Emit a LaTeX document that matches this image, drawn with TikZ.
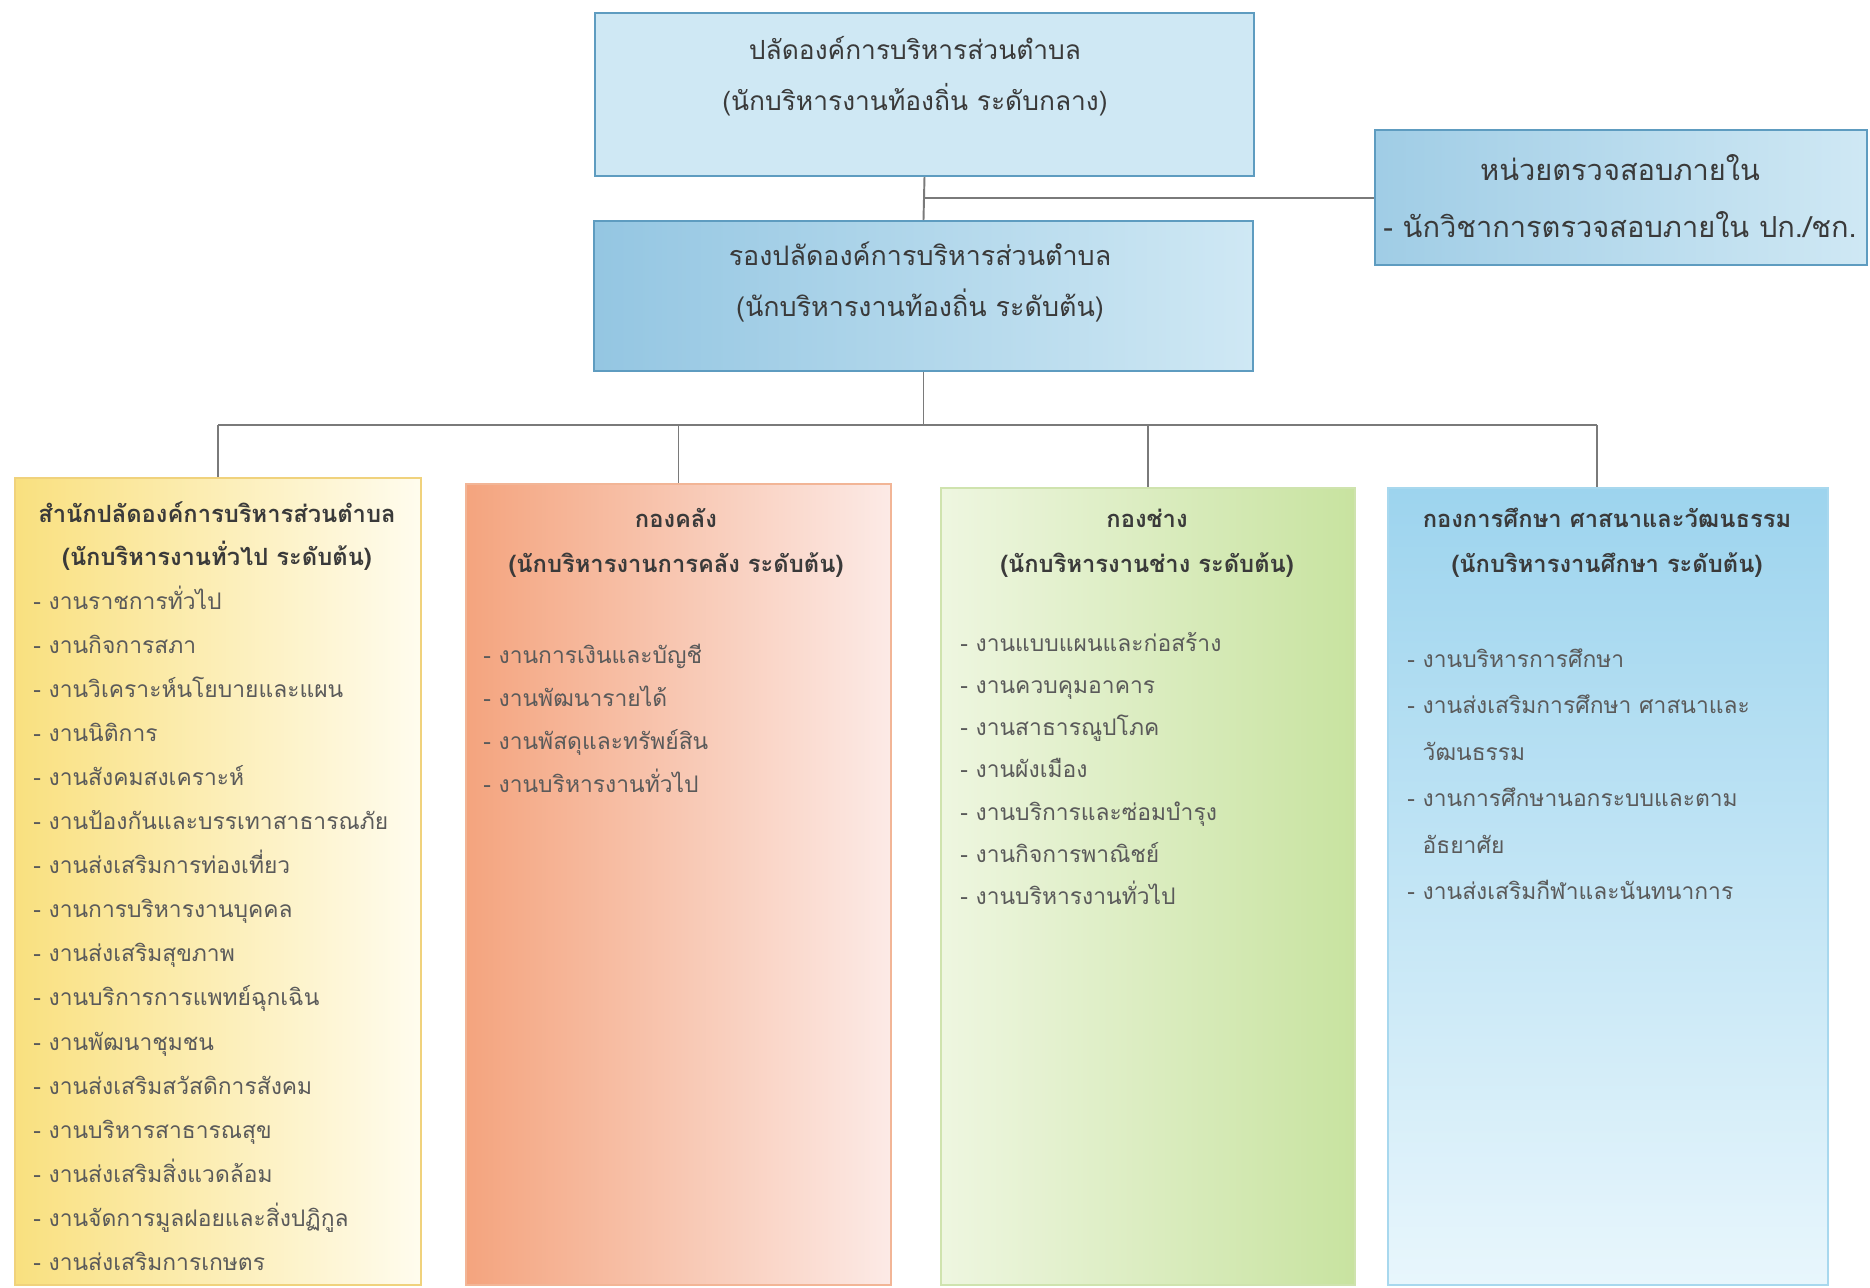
\documentclass[tikz,border=0pt]{standalone}
\usepackage{fontspec}
\newfontfamily\thaifont[Script=Thai]{Loma}

\definecolor{conngray}{HTML}{7A7A7A}
\definecolor{blueedge}{HTML}{5E9CC0}
\definecolor{bluelight}{HTML}{CFE8F4}
\definecolor{bluemid}{HTML}{94C6E2}
\definecolor{yellowedge}{HTML}{F0D27C}
\definecolor{yellowleft}{HTML}{F9E07F}
\definecolor{yellowright}{HTML}{FFFCEE}
\definecolor{orangeedge}{HTML}{F2B596}
\definecolor{orangeleft}{HTML}{F4A47E}
\definecolor{orangeright}{HTML}{FCEAE6}
\definecolor{greenedge}{HTML}{CFE3AE}
\definecolor{greenleft}{HTML}{EEF6E0}
\definecolor{greenright}{HTML}{C8E3A0}
\definecolor{skyedge}{HTML}{A8D8EE}
\definecolor{skytop}{HTML}{9DD4EE}
\definecolor{skybottom}{HTML}{E8F6FC}
\definecolor{headtext}{HTML}{3A3A3A}
\definecolor{itemtext}{HTML}{5A5A5A}

\begin{document}
\begin{tikzpicture}[x=0.02cm,y=-0.02cm,
    box/.style={anchor=north west, inner sep=0pt, line width=1.2pt},
    head/.style={text=headtext, align=center},
    divhead/.style={head, font=\thaifont\bfseries\fontsize{13.5}{25.5}\selectfont},
    item/.style={font=\thaifont\fontsize{13}{20}\selectfont, text=itemtext, anchor=base west, inner sep=0pt},
    conn/.style={draw=conngray, line width=1.1pt}]
\useasboundingbox (0,0) rectangle (1870,1288);

% top level
\node[box, draw=blueedge, fill=bluelight, minimum width=13.18cm, minimum height=3.26cm] (chief) at (594,12) {};
\node[head, font=\thaifont\fontsize{15}{29}\selectfont] (chieftext) at (915,76)
    {ปลัดองค์การบริหารส่วนตำบล\\(นักบริหารงานท้องถิ่น ระดับกลาง)};
\node[box, draw=blueedge, left color=bluemid, right color=bluelight, minimum width=13.18cm, minimum height=3cm] (deputy) at (593,220) {};
\node[head, font=\thaifont\fontsize{15.3}{29.5}\selectfont] (deputytext) at (920,282)
    {รองปลัดองค์การบริหารส่วนตำบล\\(นักบริหารงานท้องถิ่น ระดับต้น)};
\node[box, draw=blueedge, left color=bluemid!80!bluelight, right color=bluelight, minimum width=9.84cm, minimum height=2.7cm] (audit) at (1374,129) {};
\node[head, font=\thaifont\fontsize{16.5}{32}\selectfont] (audittext) at (1620,196)
    {หน่วยตรวจสอบภายใน\\- นักวิชาการตรวจสอบภายใน ปก./ชก.};

% divisions
\node[box, draw=yellowedge, left color=yellowleft, right color=yellowright, minimum width=8.12cm, minimum height=16.14cm] (office) at (14,477) {};
\node[box, draw=orangeedge, left color=orangeleft, right color=orangeright, minimum width=8.5cm, minimum height=16.02cm] (finance) at (465,483) {};
\node[box, draw=greenedge, left color=greenleft, right color=greenright, minimum width=8.28cm, minimum height=15.94cm] (works) at (940,487) {};
\node[box, draw=skyedge, top color=skytop, bottom color=skybottom, minimum width=8.8cm, minimum height=15.94cm] (edu) at (1387,487) {};

\node[divhead, font=\thaifont\bfseries\fontsize{13.5}{24}\selectfont] (officehead) at (217,536)
    {สำนักปลัดองค์การบริหารส่วนตำบล\\(นักบริหารงานทั่วไป ระดับต้น)};
\node[divhead] (financehead) at (676,543)
    {กองคลัง\\(นักบริหารงานการคลัง ระดับต้น)};
\node[divhead] (workshead) at (1147,543)
    {กองช่าง\\(นักบริหารงานช่าง ระดับต้น)};
\node[divhead] (eduhead) at (1607,543)
    {กองการศึกษา ศาสนาและวัฒนธรรม\\(นักบริหารงานศึกษา ระดับต้น)};

\foreach \t [count=\i] in {งานราชการทั่วไป, งานกิจการสภา, งานวิเคราะห์นโยบายและแผน, งานนิติการ,
    งานสังคมสงเคราะห์, งานป้องกันและบรรเทาสาธารณภัย, งานส่งเสริมการท่องเที่ยว,
    งานการบริหารงานบุคคล, งานส่งเสริมสุขภาพ, งานบริการการแพทย์ฉุกเฉิน, งานพัฒนาชุมชน,
    งานส่งเสริมสวัสดิการสังคม, งานบริหารสาธารณสุข, งานส่งเสริมสิ่งแวดล้อม,
    งานจัดการมูลฝอยและสิ่งปฏิกูล, งานส่งเสริมการเกษตร}
  \node[item] (office-\i) at (33,{609+44.1*(\i-1)}) {- \t};

\foreach \t [count=\i] in {งานการเงินและบัญชี, งานพัฒนารายได้, งานพัสดุและทรัพย์สิน, งานบริหารงานทั่วไป}
  \node[item] (finance-\i) at (483,{663+43*(\i-1)}) {- \t};

\foreach \t [count=\i] in {งานแบบแผนและก่อสร้าง, งานควบคุมอาคาร, งานสาธารณูปโภค, งานผังเมือง,
    งานบริการและซ่อมบำรุง, งานกิจการพาณิชย์, งานบริหารงานทั่วไป}
  \node[item] (works-\i) at (960,{651+42.3*(\i-1)}) {- \t};

\foreach \t [count=\i] in {- งานบริหารการศึกษา, - งานส่งเสริมการศึกษา ศาสนาและ, \phantom{- }วัฒนธรรม,
    - งานการศึกษานอกระบบและตาม, \phantom{- }อัธยาศัย, - งานส่งเสริมกีฬาและนันทนาการ}
  \node[item] (edu-\i) at (1407,{667+46.5*(\i-1)}) {\t};

% connectors
\coordinate (bus) at (0,425);
\draw[conn] (chief.south) -- (deputy.north);
\draw[conn] (chief.south |- audit.west) -- (audit.west);
\draw[conn] (deputy.south) -- (deputy.south |- bus);
\draw[conn] (office.north |- bus) -- ([xshift=-0.22cm]edu.north |- bus);
\foreach \c in {office, finance, works}
  \draw[conn] (\c.north |- bus) -- (\c.north);
\draw[conn] ([xshift=-0.22cm]edu.north |- bus) -- ([xshift=-0.22cm]edu.north);
\end{tikzpicture}
\end{document}
